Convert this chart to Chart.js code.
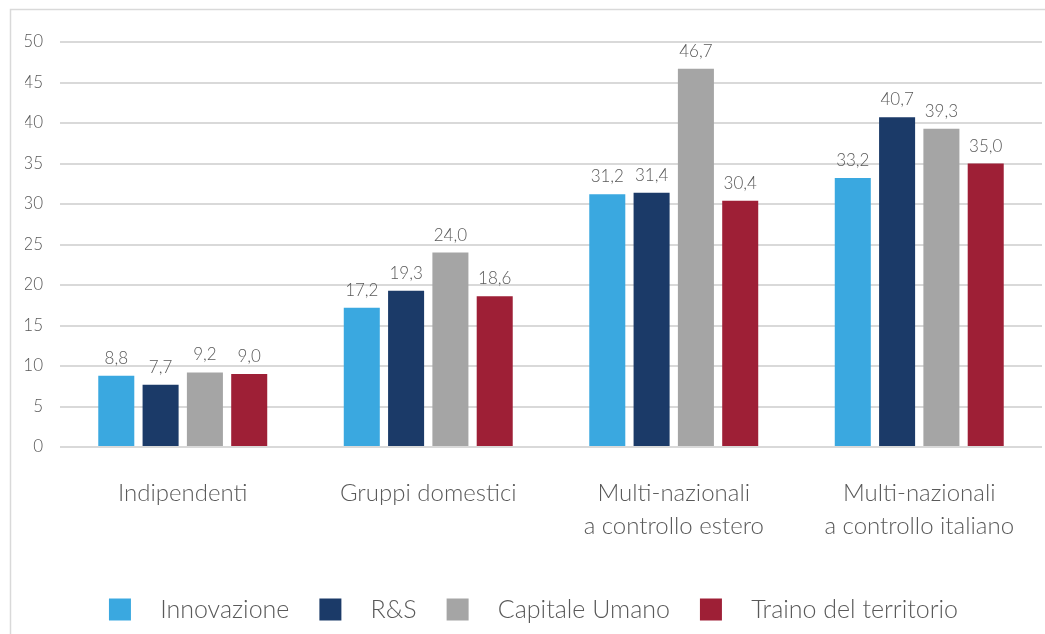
<!DOCTYPE html>
<html>
<head>
<meta charset="utf-8">
<script src="https://cdn.jsdelivr.net/npm/chart.js@4"></script>
<style>
html,body{margin:0;padding:0;background:#fff;}
#wrap{width:1045px;height:634px;position:relative;}
</style>
</head>
<body>
<div id="wrap"><canvas id="c" width="1045" height="634"></canvas></div>
<script>
const categories = [
  ['Indipendenti'],
  ['Gruppi domestici'],
  ['Multi-nazionali', 'a controllo estero'],
  ['Multi-nazionali', 'a controllo italiano']
];
const seriesNames = ['Innovazione', 'R&S', 'Capitale Umano', 'Traino del territorio'];
const innovazione = [8.8, 17.2, 31.2, 33.2];
const rs = [7.7, 19.3, 31.4, 40.7];
const capitaleUmano = [9.2, 24.0, 46.7, 39.3];
const traino = [9.0, 18.6, 30.4, 35.0];
const yTicks = [0, 5, 10, 15, 20, 25, 30, 35, 40, 45, 50];

const colors = ['#3AA8E0', '#1B3A68', '#A5A5A5', '#9E1F36'];
const seriesValues = [innovazione, rs, capitaleUmano, traino];
const FONT = 'Lato, "Open Sans", sans-serif';
const TXT = '#595959';

const borderPlugin = {
  id: 'outerBorder',
  beforeDraw(chart) {
    const ctx = chart.ctx;
    ctx.save();
    ctx.strokeStyle = '#d9d9d9';
    ctx.lineWidth = 1.5;
    ctx.strokeRect(10.5, 9.5, 1100, 700);
    ctx.restore();
  }
};

const labelPlugin = {
  id: 'valueLabels',
  afterDatasetsDraw(chart) {
    const ctx = chart.ctx;
    ctx.save();
    ctx.font = '300 17px ' + FONT;
    ctx.fillStyle = TXT;
    ctx.textAlign = 'center';
    ctx.textBaseline = 'alphabetic';
    chart.data.datasets.forEach((ds, di) => {
      const meta = chart.getDatasetMeta(di);
      meta.data.forEach((bar, i) => {
        const v = ds.data[i];
        ctx.fillText(v.toFixed(1).replace('.', ','), bar.x, bar.y - 12);
      });
    });
    ctx.restore();
  }
};

new Chart(document.getElementById('c'), {
  type: 'bar',
  data: {
    labels: categories,
    datasets: seriesNames.map((n, i) => ({
      label: n,
      data: seriesValues[i],
      backgroundColor: colors[i],
      borderWidth: 0,
      categoryPercentage: 0.722,
      barPercentage: 0.813
    }))
  },
  options: {
    responsive: false,
    animation: false,
    layout: { padding: { left: 25, right: 3, top: 42, bottom: 2 } },
    plugins: {
      tooltip: { enabled: false },
      legend: {
        position: 'bottom',
        labels: {
          boxWidth: 22,
          boxHeight: 22,
          padding: 30,
          color: TXT,
          font: { family: FONT, size: 25, weight: '300' },
          generateLabels(chart) {
            const items = Chart.defaults.plugins.legend.labels.generateLabels(chart);
            items.forEach(it => { it.text = '  \u2009' + it.text; it.lineWidth = 0; });
            return items;
          }
        }
      }
    },
    scales: {
      x: {
        grid: { display: false },
        border: { display: false },
        ticks: {
          color: TXT,
          padding: 21,
          maxRotation: 0,
          autoSkip: false,
          font: { family: FONT, size: 24, weight: '300', lineHeight: 1.4 }
        },
        afterFit(s) { s.height = 120; }
      },
      y: {
        min: 0,
        max: 50,
        afterBuildTicks(s) { s.ticks = yTicks.map(v => ({ value: v })); },
        grid: { color: '#d9d9d9', lineWidth: 2, drawTicks: false },
        border: { display: false },
        ticks: {
          color: TXT,
          padding: 17,
          font: { family: FONT, size: 17, weight: '300' }
        },
        afterFit(s) { s.width = 35; }
      }
    }
  },
  plugins: [borderPlugin, labelPlugin]
});
</script>
</body>
</html>
